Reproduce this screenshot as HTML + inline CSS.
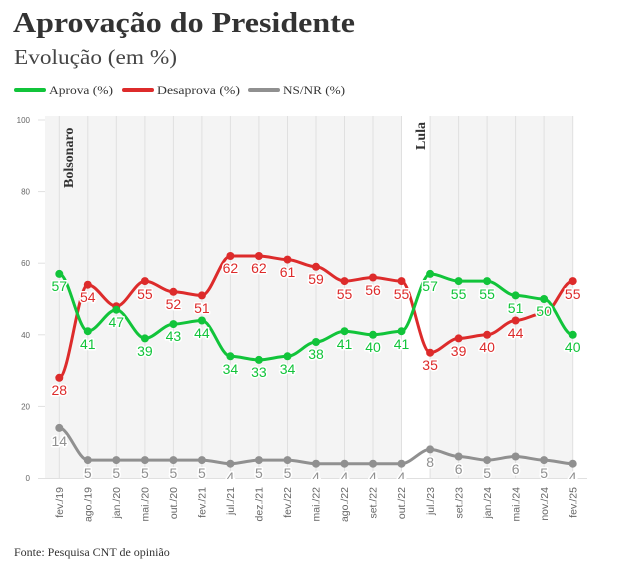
<!DOCTYPE html>
<html><head><meta charset="utf-8"><style>
html,body{margin:0;padding:0;background:#fff;width:632px;height:574px;overflow:hidden}
svg{display:block}
.lg{font-family:"Liberation Serif",serif;font-size:12px;fill:#333}
.ax{font-family:"Liberation Sans",sans-serif;font-size:8px;fill:#666}
.xl{font-family:"Liberation Sans",sans-serif;font-size:10.5px;fill:#666}
.v{font-family:"Liberation Sans",sans-serif;font-size:14px;text-anchor:middle;stroke:#fff;stroke-width:3px;paint-order:stroke;stroke-linejoin:round}
.g{fill:#11c43a}.r{fill:#dd2b2b}.n{fill:#909090}
</style></head><body>
<svg width="632" height="574" viewBox="0 0 632 574" xmlns="http://www.w3.org/2000/svg">
<text x="13" y="32" font-family="Liberation Serif,serif" font-weight="bold" font-size="29" fill="#333" textLength="342" lengthAdjust="spacingAndGlyphs">Aprovação do Presidente</text>
<text x="14" y="64" font-family="Liberation Serif,serif" font-size="21" fill="#444" textLength="163" lengthAdjust="spacingAndGlyphs">Evolução (em %)</text>
<g stroke-linecap="round" stroke-width="4">
<line x1="16" y1="90" x2="44" y2="90" stroke="#11c43a"/>
<line x1="124" y1="90" x2="152" y2="90" stroke="#dd2b2b"/>
<line x1="250" y1="90" x2="278" y2="90" stroke="#909090"/>
</g>
<text class="lg" x="49" y="94" textLength="64" lengthAdjust="spacingAndGlyphs">Aprova (%)</text>
<text class="lg" x="157" y="94" textLength="83" lengthAdjust="spacingAndGlyphs">Desaprova (%)</text>
<text class="lg" x="283" y="94" textLength="62" lengthAdjust="spacingAndGlyphs">NS/NR (%)</text>

<rect x="45" y="116" width="357" height="362" fill="#f4f4f4"/>
<rect x="430" y="116" width="143" height="362" fill="#f4f4f4"/>
<g stroke="#e0e0e0" stroke-width="1">
<line x1="59.3" y1="116" x2="59.3" y2="478"/><line x1="87.8" y1="116" x2="87.8" y2="478"/><line x1="116.3" y1="116" x2="116.3" y2="478"/><line x1="144.9" y1="116" x2="144.9" y2="478"/><line x1="173.4" y1="116" x2="173.4" y2="478"/><line x1="201.9" y1="116" x2="201.9" y2="478"/><line x1="230.4" y1="116" x2="230.4" y2="478"/><line x1="258.9" y1="116" x2="258.9" y2="478"/><line x1="287.5" y1="116" x2="287.5" y2="478"/><line x1="316" y1="116" x2="316" y2="478"/><line x1="344.5" y1="116" x2="344.5" y2="478"/><line x1="373" y1="116" x2="373" y2="478"/><line x1="401.5" y1="116" x2="401.5" y2="478"/><line x1="430.1" y1="116" x2="430.1" y2="478"/><line x1="458.6" y1="116" x2="458.6" y2="478"/><line x1="487.1" y1="116" x2="487.1" y2="478"/><line x1="515.6" y1="116" x2="515.6" y2="478"/><line x1="544.1" y1="116" x2="544.1" y2="478"/><line x1="572.7" y1="116" x2="572.7" y2="478"/>
<line x1="38" y1="120" x2="45" y2="120"/><line x1="38" y1="191.6" x2="45" y2="191.6"/><line x1="38" y1="263.2" x2="45" y2="263.2"/><line x1="38" y1="334.8" x2="45" y2="334.8"/><line x1="38" y1="406.4" x2="45" y2="406.4"/>
<line x1="38" y1="478.5" x2="587" y2="478.5"/>
</g>
<text class="ax" x="30" y="123" text-anchor="end">100</text>
<text class="ax" x="30" y="194.6" text-anchor="end">80</text>
<text class="ax" x="30" y="266.2" text-anchor="end">60</text>
<text class="ax" x="30" y="337.8" text-anchor="end">40</text>
<text class="ax" x="30" y="409.4" text-anchor="end">20</text>
<text class="ax" x="30" y="481" text-anchor="end">0</text>

<text transform="translate(73,188) rotate(-90)" font-family="Liberation Serif,serif" font-weight="bold" font-size="14" fill="#333">Bolsonaro</text>
<text transform="translate(425,150) rotate(-90)" font-family="Liberation Serif,serif" font-weight="bold" font-size="14" fill="#333">Lula</text>

<defs><clipPath id="c"><rect x="0" y="100" width="632" height="379"/></clipPath></defs>
<g fill="none" stroke-width="3" stroke-linejoin="round">
<path stroke="#909090" d="M59.3 427.9 C68.8 427.9 78.3 460.1 87.8 460.1 L201.9 460.1 C211.4 460.1 220.9 463.7 230.4 463.7 C239.9 463.7 249.4 460.1 258.9 460.1 L287.5 460.1 C297 460.1 306.5 463.7 316 463.7 L401.5 463.7 C411 463.7 420.6 449.4 430.1 449.4 C439.6 449.4 449.1 456.5 458.6 456.5 C468.1 456.5 477.6 460.1 487.1 460.1 C496.6 460.1 506.1 456.5 515.6 456.5 C525.1 456.5 534.6 460.1 544.1 460.1 C553.6 460.1 563.2 463.7 572.7 463.7"/>
<path stroke="#dd2b2b" d="M59.3 377.8 C68.8 377.8 78.3 284.7 87.8 284.7 C97.3 284.7 106.8 306.2 116.3 306.2 C125.8 306.2 135.4 281.1 144.9 281.1 C154.4 281.1 163.9 291.8 173.4 291.8 C182.9 291.8 192.4 295.4 201.9 295.4 C211.4 295.4 220.9 256 230.4 256 L258.9 256 C268.4 256 278 259.6 287.5 259.6 C297 259.6 306.5 266.8 316 266.8 C325.5 266.8 335 281.1 344.5 281.1 C354 281.1 363.5 277.5 373 277.5 C382.5 277.5 392 281.1 401.5 281.1 C411 281.1 420.6 352.7 430.1 352.7 C439.6 352.7 449.1 338.4 458.6 338.4 C468.1 338.4 477.6 334.8 487.1 334.8 C496.6 334.8 506.1 320.5 515.6 320.5 C525.1 320.5 534.6 313.3 544.1 313.3 C553.6 313.3 563.2 281.1 572.7 281.1"/>
<path stroke="#11c43a" d="M59.3 273.9 C68.8 273.9 78.3 331.2 87.8 331.2 C97.3 331.2 106.8 309.7 116.3 309.7 C125.8 309.7 135.4 338.4 144.9 338.4 C154.4 338.4 163.9 324.1 173.4 324.1 C182.9 324.1 192.4 320.5 201.9 320.5 C211.4 320.5 220.9 356.3 230.4 356.3 C239.9 356.3 249.4 359.9 258.9 359.9 C268.4 359.9 278 356.3 287.5 356.3 C297 356.3 306.5 342 316 342 C325.5 342 335 331.2 344.5 331.2 C354 331.2 363.5 334.8 373 334.8 C382.5 334.8 392 331.2 401.5 331.2 C411 331.2 420.6 273.9 430.1 273.9 C439.6 273.9 449.1 281.1 458.6 281.1 L487.1 281.1 C496.6 281.1 506.1 295.4 515.6 295.4 C525.1 295.4 534.6 299 544.1 299 C553.6 299 563.2 334.8 572.7 334.8"/>
</g>
<g fill="#909090">
<circle cx="59.3" cy="427.9" r="4"/><circle cx="87.8" cy="460.1" r="4"/><circle cx="116.3" cy="460.1" r="4"/><circle cx="144.9" cy="460.1" r="4"/><circle cx="173.4" cy="460.1" r="4"/><circle cx="201.9" cy="460.1" r="4"/><circle cx="230.4" cy="463.7" r="4"/><circle cx="258.9" cy="460.1" r="4"/><circle cx="287.5" cy="460.1" r="4"/><circle cx="316" cy="463.7" r="4"/><circle cx="344.5" cy="463.7" r="4"/><circle cx="373" cy="463.7" r="4"/><circle cx="401.5" cy="463.7" r="4"/><circle cx="430.1" cy="449.4" r="4"/><circle cx="458.6" cy="456.5" r="4"/><circle cx="487.1" cy="460.1" r="4"/><circle cx="515.6" cy="456.5" r="4"/><circle cx="544.1" cy="460.1" r="4"/><circle cx="572.7" cy="463.7" r="4"/>
</g>
<g fill="#dd2b2b">
<circle cx="59.3" cy="377.8" r="4"/><circle cx="87.8" cy="284.7" r="4"/><circle cx="116.3" cy="306.2" r="4"/><circle cx="144.9" cy="281.1" r="4"/><circle cx="173.4" cy="291.8" r="4"/><circle cx="201.9" cy="295.4" r="4"/><circle cx="230.4" cy="256" r="4"/><circle cx="258.9" cy="256" r="4"/><circle cx="287.5" cy="259.6" r="4"/><circle cx="316" cy="266.8" r="4"/><circle cx="344.5" cy="281.1" r="4"/><circle cx="373" cy="277.5" r="4"/><circle cx="401.5" cy="281.1" r="4"/><circle cx="430.1" cy="352.7" r="4"/><circle cx="458.6" cy="338.4" r="4"/><circle cx="487.1" cy="334.8" r="4"/><circle cx="515.6" cy="320.5" r="4"/><circle cx="572.7" cy="281.1" r="4"/>
</g>
<g fill="#11c43a">
<circle cx="59.3" cy="273.9" r="4"/><circle cx="87.8" cy="331.2" r="4"/><circle cx="116.3" cy="309.7" r="4"/><circle cx="144.9" cy="338.4" r="4"/><circle cx="173.4" cy="324.1" r="4"/><circle cx="201.9" cy="320.5" r="4"/><circle cx="230.4" cy="356.3" r="4"/><circle cx="258.9" cy="359.9" r="4"/><circle cx="287.5" cy="356.3" r="4"/><circle cx="316" cy="342" r="4"/><circle cx="344.5" cy="331.2" r="4"/><circle cx="373" cy="334.8" r="4"/><circle cx="401.5" cy="331.2" r="4"/><circle cx="430.1" cy="273.9" r="4"/><circle cx="458.6" cy="281.1" r="4"/><circle cx="487.1" cy="281.1" r="4"/><circle cx="515.6" cy="295.4" r="4"/><circle cx="544.1" cy="299" r="4"/><circle cx="572.7" cy="334.8" r="4"/>
</g>
<g class="v" clip-path="url(#c)">
<text class="n" x="59.3" y="446">14</text><text class="n" x="87.8" y="478">5</text><text class="n" x="116.3" y="478">5</text><text class="n" x="144.9" y="478">5</text><text class="n" x="173.4" y="478">5</text><text class="n" x="201.9" y="478">5</text><text class="n" x="230.4" y="482">4</text><text class="n" x="258.9" y="478">5</text><text class="n" x="287.5" y="478">5</text><text class="n" x="316" y="482">4</text><text class="n" x="344.5" y="482">4</text><text class="n" x="373" y="482">4</text><text class="n" x="401.5" y="482">4</text><text class="n" x="430.1" y="467">8</text><text class="n" x="458.6" y="474">6</text><text class="n" x="487.1" y="478">5</text><text class="n" x="515.6" y="474">6</text><text class="n" x="544.1" y="478">5</text><text class="n" x="572.7" y="482">4</text>
</g>
<g class="v">
<text class="r" x="59.3" y="395">28</text><text class="r" x="87.8" y="302">54</text><text class="r" x="144.9" y="299">55</text><text class="r" x="173.4" y="309">52</text><text class="r" x="201.9" y="313">51</text><text class="r" x="230.4" y="273">62</text><text class="r" x="258.9" y="273">62</text><text class="r" x="287.5" y="277">61</text><text class="r" x="316" y="284">59</text><text class="r" x="344.5" y="299">55</text><text class="r" x="373" y="295">56</text><text class="r" x="401.5" y="299">55</text><text class="r" x="430.1" y="370">35</text><text class="r" x="458.6" y="356">39</text><text class="r" x="487.1" y="352">40</text><text class="r" x="515.6" y="338">44</text><text class="r" x="572.7" y="299">55</text>
<text class="g" x="59.3" y="291">57</text><text class="g" x="87.8" y="349">41</text><text class="g" x="116.3" y="327">47</text><text class="g" x="144.9" y="356">39</text><text class="g" x="173.4" y="341">43</text><text class="g" x="201.9" y="338">44</text><text class="g" x="230.4" y="374">34</text><text class="g" x="258.9" y="377">33</text><text class="g" x="287.5" y="374">34</text><text class="g" x="316" y="359">38</text><text class="g" x="344.5" y="349">41</text><text class="g" x="373" y="352">40</text><text class="g" x="401.5" y="349">41</text><text class="g" x="430.1" y="291">57</text><text class="g" x="458.6" y="299">55</text><text class="g" x="487.1" y="299">55</text><text class="g" x="515.6" y="313">51</text><text class="g" x="544.1" y="316">50</text><text class="g" x="572.7" y="352">40</text>
</g>
<g class="xl" text-anchor="end">
<text transform="translate(63,487) rotate(-90)">fev./19</text>
<text transform="translate(91.5,487) rotate(-90)">ago./19</text>
<text transform="translate(120,487) rotate(-90)">jan./20</text>
<text transform="translate(148.6,487) rotate(-90)">mai./20</text>
<text transform="translate(177.1,487) rotate(-90)">out./20</text>
<text transform="translate(205.6,487) rotate(-90)">fev./21</text>
<text transform="translate(234.1,487) rotate(-90)">jul./21</text>
<text transform="translate(262.6,487) rotate(-90)">dez./21</text>
<text transform="translate(291.2,487) rotate(-90)">fev./22</text>
<text transform="translate(319.7,487) rotate(-90)">mai./22</text>
<text transform="translate(348.2,487) rotate(-90)">ago./22</text>
<text transform="translate(376.7,487) rotate(-90)">set./22</text>
<text transform="translate(405.2,487) rotate(-90)">out./22</text>
<text transform="translate(433.8,487) rotate(-90)">jul./23</text>
<text transform="translate(462.3,487) rotate(-90)">set./23</text>
<text transform="translate(490.8,487) rotate(-90)">jan./24</text>
<text transform="translate(519.3,487) rotate(-90)">mai./24</text>
<text transform="translate(547.8,487) rotate(-90)">nov./24</text>
<text transform="translate(576.4,487) rotate(-90)">fev./25</text>
</g>
<text x="14" y="556" font-family="Liberation Serif,serif" font-size="12" fill="#333">Fonte: Pesquisa CNT de opinião</text>
</svg>
</body></html>
